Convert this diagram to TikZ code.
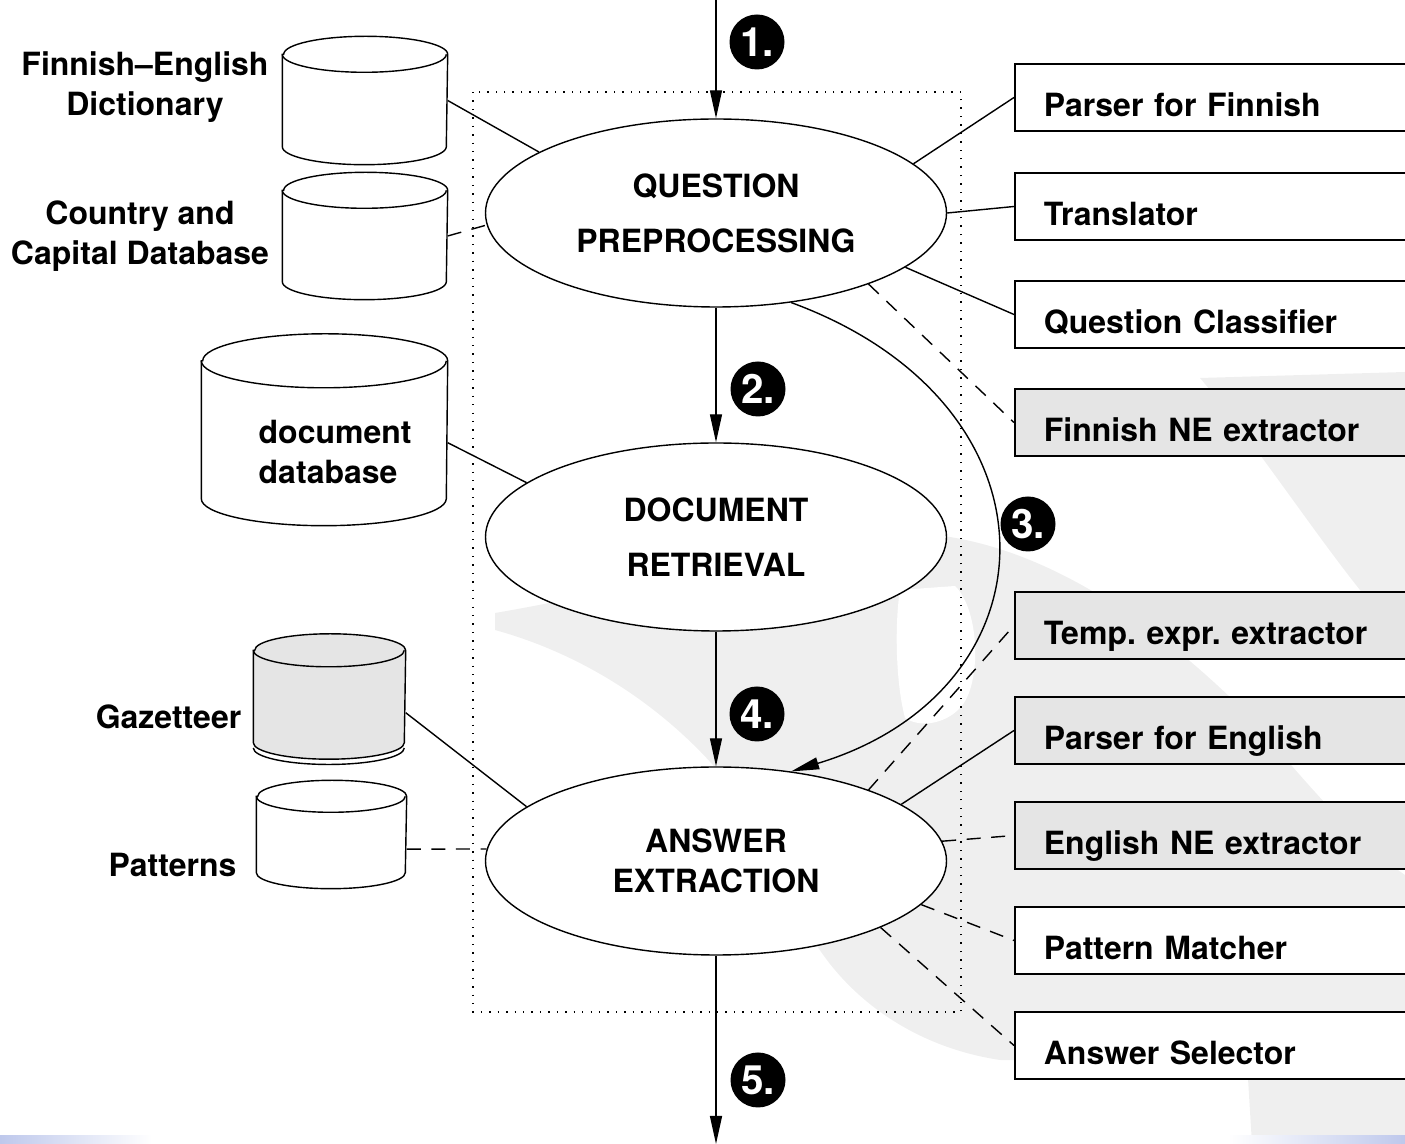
\documentclass[tikz,border=0pt]{standalone}
\usepackage{fontspec}
\setmainfont{TeX Gyre Heros}
\usetikzlibrary{shapes.geometric,arrows.meta,positioning}
\definecolor{swoosh}{RGB}{239,239,239}
\definecolor{toolgray}{RGB}{229,229,229}
\definecolor{barblue}{RGB}{190,200,236}
\frenchspacing
% outline of a database drum round a node: name, x radius, y radius, fill
\newcommand{\dbOutline}[4]{%
  \filldraw[fill=#4] (#1.north west) -- (#1.south west)
    arc[start angle=180,end angle=0,x radius=#2,y radius=#3]
    -- (#1.north east)
    arc[start angle=0,end angle=-180,x radius=#2,y radius=#3] -- cycle;
  \draw (#1.north west) arc[start angle=180,end angle=0,x radius=#2,y radius=#3];
}

\begin{document}
\begin{tikzpicture}
[x=1cm,y=-1cm,
  lineDecorate/.style={-,line width=0.4pt},%
  dashDecorate/.style={-,line width=0.4pt,dash pattern=on 4pt off 3pt},%
  flowDecorate/.style={-{Triangle[length=2.8mm,width=1.2mm]},line width=0.4pt},%
  stepDecorate/.style={shape=ellipse,draw,fill=white,minimum width=4.61cm,
    minimum height=1.88cm,inner sep=0pt,align=center,
    font=\bfseries\fontsize{9.1}{15.6}\selectfont},%
  toolDecorate/.style={shape=rectangle,draw,line width=0.5pt,anchor=west,
    text width=3.9cm,align=left,inner xsep=0.29cm,inner ysep=0pt,
    text height=0.53cm,text depth=0.14cm,
    font=\bfseries\fontsize{9.1}{11}\selectfont},%
  dbDecorate/.style={shape=rectangle,inner sep=0pt},%
  numDecorate/.style={shape=circle,fill=black,text=white,minimum size=0.55cm,
    inner sep=0pt,font=\bfseries\fontsize{11.5}{12}\selectfont},%
  labelDecorate/.style={align=center,inner sep=0pt,
    font=\bfseries\fontsize{9.1}{11.5}\selectfont}]
\useasboundingbox (0,0) rectangle (14.05,11.44);
\clip (0,0) rectangle (14.05,11.44);
%% background
\fill[swoosh] (4.95,6.13) .. controls (6.6,5.85) and (8.6,5.25) .. (9.5,5.37)
  .. controls (10.6,5.55) and (11.6,6.3) .. (12.33,7.0)
  .. controls (12.9,7.6) and (13.4,8.3) .. (14.05,8.75) -- (14.05,11.44)
  -- (12.52,11.44) -- (12.47,10.62) -- (10.0,10.6)
  .. controls (9.0,10.45) and (8.2,9.8) .. (7.9,8.9)
  .. controls (7.5,7.8) and (6.4,6.7) .. (4.95,6.30) -- cycle;
\fill[white] (9.0,5.9) -- (9.55,5.86) .. controls (9.8,6.1) and (9.82,6.85) .. (9.6,7.08)
  .. controls (9.45,7.24) and (9.2,7.28) .. (9.05,7.18)
  .. controls (8.95,6.8) and (8.95,6.2) .. (9.0,5.9) -- cycle;
\fill[swoosh] (12.0,3.78) -- (14.05,3.72) -- (14.05,6.4)
  .. controls (13.5,5.9) and (12.7,4.6) .. (12.0,3.78) -- cycle;
\shade[left color=barblue,right color=white] (0,11.36) rectangle (1.52,11.44);
\shade[left color=white,right color=barblue] (12.28,11.36) rectangle (14.05,11.44);
\draw[dotted] (4.73,0.92) rectangle (9.61,10.12);
%% steps
\node (prep) at (7.16,2.13) [stepDecorate] {QUESTION\\PREPROCESSING};
\node (retr) at (7.16,5.37) [stepDecorate] {DOCUMENT\\RETRIEVAL};
\node (extr) at (7.16,8.61) [stepDecorate,
  font=\bfseries\fontsize{9.1}{11.4}\selectfont] {ANSWER\\EXTRACTION};
%% tools on the right
\foreach \nodename/\y/\shade/\toolname in {
  pfi/0.975/white/Parser for Finnish, tra/2.065/white/Translator,
  qcl/3.145/white/Question Classifier, fne/4.225/toolgray/Finnish NE extractor,
  tmp/6.255/toolgray/Temp. expr. extractor, pen/7.305/toolgray/Parser for English,
  ene/8.355/toolgray/English NE extractor, pma/9.405/white/Pattern Matcher,
  ans/10.455/white/Answer Selector}
{
  \node (\nodename) at (10.14,\y) [toolDecorate,fill=\shade] {\toolname};
}
%% databases on the left
\foreach \nodename/\x/\y/\w/\h/\rx/\ry/\shade in {
  dict/3.65/1.005/1.64/0.91/0.82/0.18/white,
  ctry/3.65/2.36/1.64/0.90/0.82/0.18/white,
  docs/3.245/4.2975/2.45/1.365/1.225/0.27/white,
  gaz/3.295/6.965/1.51/0.91/0.755/0.165/toolgray,
  pat/3.315/8.345/1.49/0.75/0.745/0.16/white}
{
  \node (\nodename) at (\x,\y) [dbDecorate,minimum width=\w cm,minimum height=\h cm] {};
  \dbOutline{\nodename}{\rx}{\ry}{\shade}
}
\draw ([yshift=-1.5pt]gaz.south west) arc[start angle=180,end angle=0,x radius=0.755,y radius=0.165];
\node (dictlbl) at (1.45,0.87) [labelDecorate] {Finnish--English\\Dictionary};
\node (ctrylbl) at (1.40,2.36) [labelDecorate] {Country and\\Capital Database};
\node (docslbl) at (2.58,4.52) [labelDecorate,anchor=west,align=left] {document\\database};
\node (gazlbl) at (1.685,7.17) [labelDecorate] {Gazetteer};
\node (patlbl) at (1.725,8.65) [labelDecorate] {Patterns};
%% step numbers
\foreach \nodename/\x/\y/\num in {
  n1/7.57/0.42/1, n2/7.58/3.89/2, n3/10.28/5.24/3, n4/7.57/7.14/4, n5/7.58/10.80/5}
{
  \node (\nodename) at (\x,\y) [numDecorate] {\num.};
}
%% flow
\coordinate (in) at (7.16,0);
\coordinate (out) at (7.16,11.44);
\foreach \startnode/\endnode in {in/prep, prep/retr, retr/extr, extr/out}
{
  \draw[flowDecorate] (\startnode) -- (\endnode);
}
\draw[flowDecorate] (prep.-50) .. controls (10.7,4.05) and (10.6,6.9) .. (extr.50);
%% links
\path
\foreach \startnode/\endnode in {
  dict.east/prep.161, docs.-6/retr.164, gaz.-12/extr.164,
  prep.14/pfi.west, prep.east/tra.west, prep.-16/qcl.west, extr.17/pen.west}
{
  (\startnode) edge[lineDecorate] (\endnode)
};
\path
\foreach \startnode/\endnode in {
  ctry.east/prep.183, pat.-11/extr.177, prep.-25/fne.west, extr.25/tmp.west,
  extr.5/ene.west, extr.-12/pma.west, extr.-22/ans.west}
{
  (\startnode) edge[dashDecorate] (\endnode)
};
\end{tikzpicture}
\end{document}
